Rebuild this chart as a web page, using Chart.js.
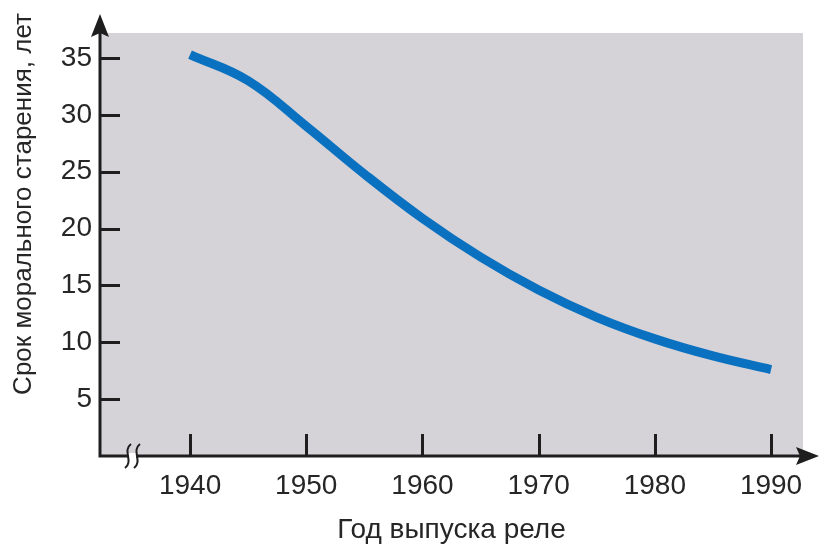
<!DOCTYPE html>
<html lang="ru">
<head>
<meta charset="utf-8">
<title>Срок морального старения реле</title>
<script src="https://cdn.jsdelivr.net/npm/chart.js@4.4.1/dist/chart.umd.min.js"></script>
<style>
  html, body { margin: 0; padding: 0; background: #fff; }
  #wrap { width: 819px; height: 551px; position: relative; }
</style>
</head>
<body>
<div id="wrap"><canvas id="chart"></canvas></div>
<script>
// data
const years = [1940, 1945, 1950, 1955, 1960, 1965, 1970, 1975, 1980, 1985, 1990];
const lifetime = [35.3, 33.0, 29.0, 24.8, 20.9, 17.5, 14.6, 12.2, 10.3, 8.8, 7.6];
const xTicks = [1940, 1950, 1960, 1970, 1980, 1990];
const yTicks = [5, 10, 15, 20, 25, 30, 35];
const xTitle = "Год выпуска реле";
const yTitle = "Срок морального старения, лет";

const ink = "#1e1e1e";
const textColor = "#262626";
const plotBg = "#d5d3d7";
const lineColor = "#0a70c0";
const fontFamily = "'Liberation Sans', Arial, sans-serif";

// ── AXES, ARROWS, TICKS, BREAK MARK
const axesPlugin = {
  id: "axes",
  beforeDraw(chart) {
    const { ctx, chartArea: a } = chart;
    ctx.save();
    ctx.fillStyle = plotBg;
    ctx.fillRect(a.left, a.top, a.right - a.left, a.bottom - a.top);
    ctx.restore();
  },
  afterDraw(chart) {
    const { ctx, chartArea: a, scales } = chart;
    const x0 = a.left;
    const y0 = a.bottom;
    ctx.save();
    ctx.strokeStyle = ink;
    ctx.fillStyle = ink;
    ctx.lineWidth = 3;

    // axis lines
    ctx.beginPath();
    ctx.moveTo(x0, y0 + 1.5);
    ctx.lineTo(x0, 30);
    ctx.moveTo(x0 - 1.5, y0);
    ctx.lineTo(805, y0);
    ctx.stroke();

    // arrow heads
    ctx.beginPath();
    ctx.moveTo(x0, 14);
    ctx.lineTo(x0 + 9, 37);
    ctx.lineTo(x0, 33);
    ctx.lineTo(x0 - 9, 37);
    ctx.closePath();
    ctx.fill();

    ctx.beginPath();
    ctx.moveTo(819, y0);
    ctx.lineTo(796, y0 - 9);
    ctx.lineTo(800, y0);
    ctx.lineTo(796, y0 + 9);
    ctx.closePath();
    ctx.fill();

    // tick marks pointing into the plot
    ctx.beginPath();
    scales.y.ticks.forEach((t) => {
      const py = Math.round(scales.y.getPixelForValue(t.value)) + 0.5;
      ctx.moveTo(x0, py);
      ctx.lineTo(x0 + 20, py);
    });
    scales.x.ticks.forEach((t) => {
      const px = Math.round(scales.x.getPixelForValue(t.value)) + 0.5;
      ctx.moveTo(px, y0);
      ctx.lineTo(px, y0 - 22);
    });
    ctx.stroke();

    // axis break
    ctx.fillStyle = "#fff";
    ctx.fillRect(128, y0 - 3, 8, 6);
    ctx.lineWidth = 2;
    [128, 137].forEach((cx) => {
      ctx.beginPath();
      ctx.moveTo(cx + 3, y0 - 12);
      ctx.bezierCurveTo(cx - 6, y0 - 5, cx + 6, y0 + 5, cx - 3, y0 + 12);
      ctx.stroke();
    });

    // y title
    ctx.fillStyle = textColor;
    ctx.font = `26px ${fontFamily}`;
    ctx.textAlign = "center";
    ctx.textBaseline = "middle";
    ctx.translate(24, 204);
    ctx.rotate(-Math.PI / 2);
    ctx.fillText(yTitle, 0, 0);
    ctx.restore();
  },
};

new Chart(document.getElementById("chart"), {
  type: "line",
  data: {
    datasets: [{
      data: years.map((yr, i) => ({ x: yr, y: lifetime[i] })),
      borderColor: lineColor,
      borderWidth: 9,
      borderCapStyle: "butt",
      pointRadius: 0,
      fill: false,
      tension: 0.4,
    }],
  },
  options: {
    responsive: true,
    maintainAspectRatio: false,
    animation: false,
    layout: { padding: { top: 33, right: 16, left: 0, bottom: 0 } },
    plugins: { legend: { display: false }, tooltip: { enabled: false } },
    scales: {
      x: {
        type: "linear",
        min: 1932.25,
        max: 1992.75,
        grid: { display: false, drawTicks: false },
        border: { display: false },
        afterBuildTicks: (s) => { s.ticks = xTicks.map((v) => ({ value: v })); },
        afterFit: (s) => { s.height = 95; },
        ticks: {
          padding: 13,
          maxRotation: 0,
          autoSkip: false,
          color: textColor,
          font: { family: fontFamily, size: 28 },
          callback: (v) => String(v),
        },
        title: {
          display: true,
          text: xTitle,
          color: textColor,
          font: { family: fontFamily, size: 28 },
          padding: { top: 0, bottom: 4 },
        },
      },
      y: {
        min: 0,
        max: 37.2,
        grid: { display: false, drawTicks: false },
        border: { display: false },
        afterBuildTicks: (s) => { s.ticks = yTicks.map((v) => ({ value: v })); },
        afterFit: (s) => { s.width = 100; },
        ticks: {
          padding: 8,
          autoSkip: false,
          color: textColor,
          font: { family: fontFamily, size: 28 },
        },
      },
    },
  },
  plugins: [axesPlugin],
});
</script>
</body>
</html>
